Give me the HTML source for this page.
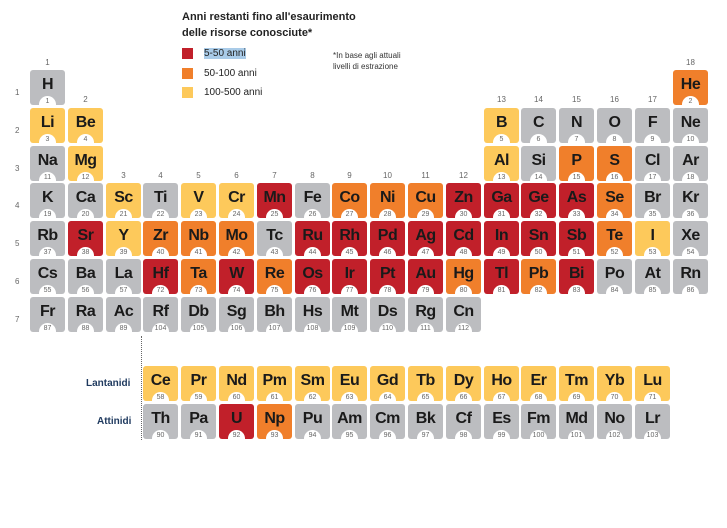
<!DOCTYPE html>
<html><head><meta charset="utf-8"><style>
body{margin:0;width:727px;height:528px;background:#fff;position:relative;overflow:hidden;font-family:"Liberation Sans",sans-serif;}
.c{position:absolute;width:35px;height:35px;border-radius:3px;overflow:hidden;}
.c b{position:absolute;left:0;right:0;top:6px;text-align:center;font-size:16px;font-weight:bold;color:#1a1a1a;letter-spacing:-0.5px;}
.c i{position:absolute;left:9px;top:26px;width:17px;height:17px;border-radius:50%;background:#fff;font-style:normal;font-size:7px;color:#666;text-align:center;line-height:11px;}
.r{background:#c1202a}.o{background:#f07f2b}.y{background:#fdc95b}.g{background:#bcbdc0}
.t{position:absolute;font-size:8px;color:#666;width:35px;text-align:center;}
.rl{position:absolute;left:15px;font-size:8px;color:#666;}
.lg{position:absolute;left:182px;width:11px;height:11px;}
.lt{position:absolute;left:204px;font-size:10px;color:#222;}
</style></head><body>
<div style="position:absolute;left:182px;top:9px;font-size:11px;font-weight:bold;color:#222;line-height:16px">Anni restanti fino all'esaurimento<br>delle risorse conosciute*</div>
<div class="lg r" style="top:48px"></div><div class="lt" style="top:48px;background:#a9cbe8">5-50 anni</div>
<div class="lg o" style="top:68px"></div><div class="lt" style="top:68px">50-100 anni</div>
<div class="lg y" style="top:87px"></div><div class="lt" style="top:87px">100-500 anni</div>
<div style="position:absolute;left:333px;top:50px;font-size:8px;color:#333;line-height:11px">*In base agli attuali<br>livelli di estrazione</div>

<div class="t" style="left:30px;top:58px">1</div>
<div class="t" style="left:68px;top:95px">2</div>
<div class="t" style="left:106px;top:171px">3</div><div class="t" style="left:143px;top:171px">4</div><div class="t" style="left:181px;top:171px">5</div><div class="t" style="left:219px;top:171px">6</div><div class="t" style="left:257px;top:171px">7</div><div class="t" style="left:295px;top:171px">8</div><div class="t" style="left:332px;top:171px">9</div><div class="t" style="left:370px;top:171px">10</div><div class="t" style="left:408px;top:171px">11</div><div class="t" style="left:446px;top:171px">12</div>
<div class="t" style="left:484px;top:95px">13</div><div class="t" style="left:521px;top:95px">14</div><div class="t" style="left:559px;top:95px">15</div><div class="t" style="left:597px;top:95px">16</div><div class="t" style="left:635px;top:95px">17</div><div class="t" style="left:673px;top:58px">18</div>
<div class="rl" style="top:88px">1</div><div class="rl" style="top:126px">2</div><div class="rl" style="top:164px">3</div><div class="rl" style="top:201px">4</div><div class="rl" style="top:239px">5</div><div class="rl" style="top:277px">6</div><div class="rl" style="top:315px">7</div>

<div class="c g" style="left:30px;top:70px"><b>H</b><i>1</i></div>
<div class="c o" style="left:673px;top:70px"><b>He</b><i>2</i></div>

<div class="c y" style="left:30px;top:108px"><b>Li</b><i>3</i></div>
<div class="c y" style="left:68px;top:108px"><b>Be</b><i>4</i></div>
<div class="c y" style="left:484px;top:108px"><b>B</b><i>5</i></div>
<div class="c g" style="left:521px;top:108px"><b>C</b><i>6</i></div>
<div class="c g" style="left:559px;top:108px"><b>N</b><i>7</i></div>
<div class="c g" style="left:597px;top:108px"><b>O</b><i>8</i></div>
<div class="c g" style="left:635px;top:108px"><b>F</b><i>9</i></div>
<div class="c g" style="left:673px;top:108px"><b>Ne</b><i>10</i></div>

<div class="c g" style="left:30px;top:146px"><b>Na</b><i>11</i></div>
<div class="c y" style="left:68px;top:146px"><b>Mg</b><i>12</i></div>
<div class="c y" style="left:484px;top:146px"><b>Al</b><i>13</i></div>
<div class="c g" style="left:521px;top:146px"><b>Si</b><i>14</i></div>
<div class="c o" style="left:559px;top:146px"><b>P</b><i>15</i></div>
<div class="c o" style="left:597px;top:146px"><b>S</b><i>16</i></div>
<div class="c g" style="left:635px;top:146px"><b>Cl</b><i>17</i></div>
<div class="c g" style="left:673px;top:146px"><b>Ar</b><i>18</i></div>

<div class="c g" style="left:30px;top:183px"><b>K</b><i>19</i></div>
<div class="c g" style="left:68px;top:183px"><b>Ca</b><i>20</i></div>
<div class="c y" style="left:106px;top:183px"><b>Sc</b><i>21</i></div>
<div class="c g" style="left:143px;top:183px"><b>Ti</b><i>22</i></div>
<div class="c y" style="left:181px;top:183px"><b>V</b><i>23</i></div>
<div class="c y" style="left:219px;top:183px"><b>Cr</b><i>24</i></div>
<div class="c r" style="left:257px;top:183px"><b>Mn</b><i>25</i></div>
<div class="c g" style="left:295px;top:183px"><b>Fe</b><i>26</i></div>
<div class="c o" style="left:332px;top:183px"><b>Co</b><i>27</i></div>
<div class="c o" style="left:370px;top:183px"><b>Ni</b><i>28</i></div>
<div class="c o" style="left:408px;top:183px"><b>Cu</b><i>29</i></div>
<div class="c r" style="left:446px;top:183px"><b>Zn</b><i>30</i></div>
<div class="c r" style="left:484px;top:183px"><b>Ga</b><i>31</i></div>
<div class="c r" style="left:521px;top:183px"><b>Ge</b><i>32</i></div>
<div class="c r" style="left:559px;top:183px"><b>As</b><i>33</i></div>
<div class="c o" style="left:597px;top:183px"><b>Se</b><i>34</i></div>
<div class="c g" style="left:635px;top:183px"><b>Br</b><i>35</i></div>
<div class="c g" style="left:673px;top:183px"><b>Kr</b><i>36</i></div>

<div class="c g" style="left:30px;top:221px"><b>Rb</b><i>37</i></div>
<div class="c r" style="left:68px;top:221px"><b>Sr</b><i>38</i></div>
<div class="c y" style="left:106px;top:221px"><b>Y</b><i>39</i></div>
<div class="c o" style="left:143px;top:221px"><b>Zr</b><i>40</i></div>
<div class="c o" style="left:181px;top:221px"><b>Nb</b><i>41</i></div>
<div class="c o" style="left:219px;top:221px"><b>Mo</b><i>42</i></div>
<div class="c g" style="left:257px;top:221px"><b>Tc</b><i>43</i></div>
<div class="c r" style="left:295px;top:221px"><b>Ru</b><i>44</i></div>
<div class="c r" style="left:332px;top:221px"><b>Rh</b><i>45</i></div>
<div class="c r" style="left:370px;top:221px"><b>Pd</b><i>46</i></div>
<div class="c r" style="left:408px;top:221px"><b>Ag</b><i>47</i></div>
<div class="c r" style="left:446px;top:221px"><b>Cd</b><i>48</i></div>
<div class="c r" style="left:484px;top:221px"><b>In</b><i>49</i></div>
<div class="c r" style="left:521px;top:221px"><b>Sn</b><i>50</i></div>
<div class="c r" style="left:559px;top:221px"><b>Sb</b><i>51</i></div>
<div class="c o" style="left:597px;top:221px"><b>Te</b><i>52</i></div>
<div class="c y" style="left:635px;top:221px"><b>I</b><i>53</i></div>
<div class="c g" style="left:673px;top:221px"><b>Xe</b><i>54</i></div>

<div class="c g" style="left:30px;top:259px"><b>Cs</b><i>55</i></div>
<div class="c g" style="left:68px;top:259px"><b>Ba</b><i>56</i></div>
<div class="c g" style="left:106px;top:259px"><b>La</b><i>57</i></div>
<div class="c r" style="left:143px;top:259px"><b>Hf</b><i>72</i></div>
<div class="c o" style="left:181px;top:259px"><b>Ta</b><i>73</i></div>
<div class="c r" style="left:219px;top:259px"><b>W</b><i>74</i></div>
<div class="c o" style="left:257px;top:259px"><b>Re</b><i>75</i></div>
<div class="c r" style="left:295px;top:259px"><b>Os</b><i>76</i></div>
<div class="c r" style="left:332px;top:259px"><b>Ir</b><i>77</i></div>
<div class="c r" style="left:370px;top:259px"><b>Pt</b><i>78</i></div>
<div class="c r" style="left:408px;top:259px"><b>Au</b><i>79</i></div>
<div class="c o" style="left:446px;top:259px"><b>Hg</b><i>80</i></div>
<div class="c r" style="left:484px;top:259px"><b>Tl</b><i>81</i></div>
<div class="c o" style="left:521px;top:259px"><b>Pb</b><i>82</i></div>
<div class="c r" style="left:559px;top:259px"><b>Bi</b><i>83</i></div>
<div class="c g" style="left:597px;top:259px"><b>Po</b><i>84</i></div>
<div class="c g" style="left:635px;top:259px"><b>At</b><i>85</i></div>
<div class="c g" style="left:673px;top:259px"><b>Rn</b><i>86</i></div>

<div class="c g" style="left:30px;top:297px"><b>Fr</b><i>87</i></div>
<div class="c g" style="left:68px;top:297px"><b>Ra</b><i>88</i></div>
<div class="c g" style="left:106px;top:297px"><b>Ac</b><i>89</i></div>
<div class="c g" style="left:143px;top:297px"><b>Rf</b><i>104</i></div>
<div class="c g" style="left:181px;top:297px"><b>Db</b><i>105</i></div>
<div class="c g" style="left:219px;top:297px"><b>Sg</b><i>106</i></div>
<div class="c g" style="left:257px;top:297px"><b>Bh</b><i>107</i></div>
<div class="c g" style="left:295px;top:297px"><b>Hs</b><i>108</i></div>
<div class="c g" style="left:332px;top:297px"><b>Mt</b><i>109</i></div>
<div class="c g" style="left:370px;top:297px"><b>Ds</b><i>110</i></div>
<div class="c g" style="left:408px;top:297px"><b>Rg</b><i>111</i></div>
<div class="c g" style="left:446px;top:297px"><b>Cn</b><i>112</i></div>

<div style="position:absolute;left:141px;top:336px;height:104px;border-left:1px dotted #666"></div>
<div style="position:absolute;left:86px;top:378px;font-size:10px;font-weight:bold;color:#1f3a5f">Lantanidi</div>
<div style="position:absolute;left:97px;top:416px;font-size:10px;font-weight:bold;color:#1f3a5f">Attinidi</div>

<div class="c y" style="left:143px;top:366px"><b>Ce</b><i>58</i></div>
<div class="c y" style="left:181px;top:366px"><b>Pr</b><i>59</i></div>
<div class="c y" style="left:219px;top:366px"><b>Nd</b><i>60</i></div>
<div class="c y" style="left:257px;top:366px"><b>Pm</b><i>61</i></div>
<div class="c y" style="left:295px;top:366px"><b>Sm</b><i>62</i></div>
<div class="c y" style="left:332px;top:366px"><b>Eu</b><i>63</i></div>
<div class="c y" style="left:370px;top:366px"><b>Gd</b><i>64</i></div>
<div class="c y" style="left:408px;top:366px"><b>Tb</b><i>65</i></div>
<div class="c y" style="left:446px;top:366px"><b>Dy</b><i>66</i></div>
<div class="c y" style="left:484px;top:366px"><b>Ho</b><i>67</i></div>
<div class="c y" style="left:521px;top:366px"><b>Er</b><i>68</i></div>
<div class="c y" style="left:559px;top:366px"><b>Tm</b><i>69</i></div>
<div class="c y" style="left:597px;top:366px"><b>Yb</b><i>70</i></div>
<div class="c y" style="left:635px;top:366px"><b>Lu</b><i>71</i></div>

<div class="c g" style="left:143px;top:404px"><b>Th</b><i>90</i></div>
<div class="c g" style="left:181px;top:404px"><b>Pa</b><i>91</i></div>
<div class="c r" style="left:219px;top:404px"><b>U</b><i>92</i></div>
<div class="c o" style="left:257px;top:404px"><b>Np</b><i>93</i></div>
<div class="c g" style="left:295px;top:404px"><b>Pu</b><i>94</i></div>
<div class="c g" style="left:332px;top:404px"><b>Am</b><i>95</i></div>
<div class="c g" style="left:370px;top:404px"><b>Cm</b><i>96</i></div>
<div class="c g" style="left:408px;top:404px"><b>Bk</b><i>97</i></div>
<div class="c g" style="left:446px;top:404px"><b>Cf</b><i>98</i></div>
<div class="c g" style="left:484px;top:404px"><b>Es</b><i>99</i></div>
<div class="c g" style="left:521px;top:404px"><b>Fm</b><i>100</i></div>
<div class="c g" style="left:559px;top:404px"><b>Md</b><i>101</i></div>
<div class="c g" style="left:597px;top:404px"><b>No</b><i>102</i></div>
<div class="c g" style="left:635px;top:404px"><b>Lr</b><i>103</i></div>
</body></html>
